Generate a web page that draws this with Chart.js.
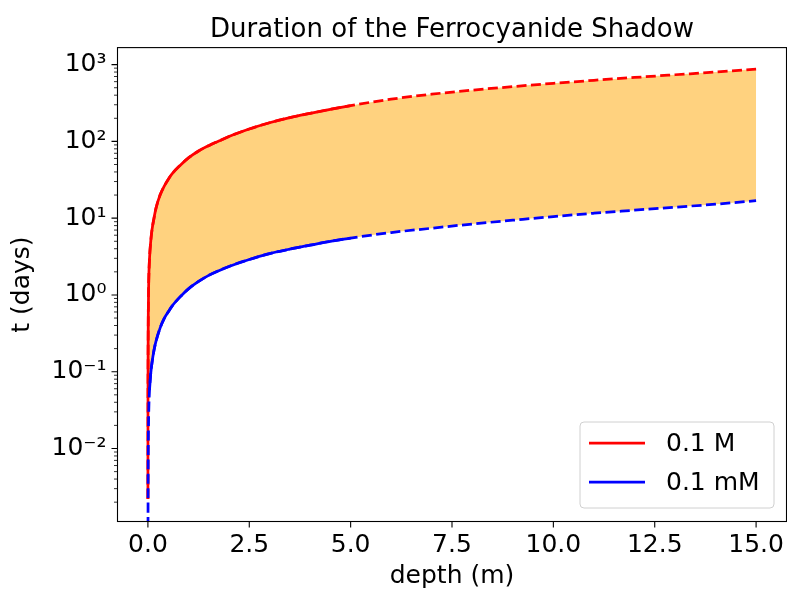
<!DOCTYPE html>
<html>
<head>
<meta charset="utf-8">
<script src="https://cdn.jsdelivr.net/npm/chart.js@4.4.1/dist/chart.umd.min.js"></script>
<style>
  html, body { margin: 0; padding: 0; background: #fff; }
  #wrap { width: 787px; height: 592px; }
</style>
</head>
<body>
<div id="wrap"><canvas id="shadowChart" width="787" height="592"></canvas></div>
<script>
// depth (m) where the curves were read
const depth = [0, 0.002, 0.005, 0.01, 0.02, 0.04, 0.07, 0.1, 0.15, 0.2,
               0.3, 0.4, 0.5, 0.6, 0.8, 1.0, 1.25, 1.5, 1.75, 2.0,
               2.5, 3.0, 3.5, 4.0, 4.5, 5.0,
               6, 7, 8, 9, 10, 11, 12, 13, 14, 15];
// t (days) for 0.1 M
const tHigh = [0.0022, 0.04, 0.2, 0.6, 1.5, 3, 5, 7, 10, 13.5,
               20, 26, 32, 38, 49, 61, 75, 88, 101, 116,
               145, 175, 204, 232, 262, 293,
               355, 412, 465, 517, 570, 625, 680, 738, 800, 875];
// t (days) for 0.1 mM
const tLow = [0.0004, 0.0008, 0.004, 0.012, 0.029, 0.058, 0.095, 0.13, 0.19, 0.25,
              0.37, 0.49, 0.6, 0.72, 0.95, 1.2, 1.5, 1.8, 2.07, 2.35,
              2.9, 3.45, 3.95, 4.45, 5.0, 5.5,
              6.5, 7.4, 8.4, 9.4, 10.5, 11.6, 12.7, 13.9, 15.2, 16.9];

const seriesLabels = ['0.1 M', '0.1 mM'];
const solidEnd = 5;          // solid up to 5 m, dashed after
const lowSolidStart = 0.04;  // solid 0.1 mM line starts here

const xTicks = [0, 2.5, 5, 7.5, 10, 12.5, 15];
const xTickLabels = ['0.0', '2.5', '5.0', '7.5', '10.0', '12.5', '15.0'];
const yTicks = [0.01, 0.1, 1, 10, 100, 1000];
const yTickLabels = ['10⁻²', '10⁻¹', '10⁰', '10¹', '10²', '10³'];

const FONT = 'DejaVu Sans';
const RED = '#ff0000';
const BLUE = '#0000ff';

function points(vals, from, to) {
    return depth.map((x, i) => ({ x: x, y: vals[i] }))
        .filter(p => p.x >= from && p.x <= to);
}

// frame, tick marks and legend in matplotlib style
const mplDecor = {
    id: 'mplDecor',
    afterDraw(chart) {
        const { ctx, chartArea: a, scales: { x, y } } = chart;
        ctx.save();
        ctx.strokeStyle = '#000';
        ctx.lineWidth = 1.1;
        ctx.strokeRect(a.left, a.top, a.right - a.left, a.bottom - a.top);

        ctx.beginPath();
        xTicks.forEach(v => {
            const px = x.getPixelForValue(v);
            ctx.moveTo(px, a.bottom);
            ctx.lineTo(px, a.bottom + 6);
        });
        yTicks.forEach(v => {
            const py = y.getPixelForValue(v);
            ctx.moveTo(a.left, py);
            ctx.lineTo(a.left - 6, py);
        });
        ctx.stroke();

        // minor ticks on the log axis
        ctx.lineWidth = 0.8;
        ctx.beginPath();
        for (let e = -4; e <= 3; e++) {
            for (let m = 2; m <= 9; m++) {
                const v = m * Math.pow(10, e);
                if (v < y.min || v > y.max) continue;
                const py = y.getPixelForValue(v);
                ctx.moveTo(a.left, py);
                ctx.lineTo(a.left - 3.5, py);
            }
        }
        ctx.stroke();

        // legend, lower right
        const w = 194, h = 86;
        const lx = a.right - 12.5 - w;
        const ly = a.bottom - 13.5 - h;
        ctx.beginPath();
        ctx.roundRect(lx, ly, w, h, 4);
        ctx.fillStyle = 'rgba(255,255,255,0.8)';
        ctx.fill();
        ctx.strokeStyle = '#d0d0d0';
        ctx.lineWidth = 1;
        ctx.stroke();

        const colors = [RED, BLUE];
        ctx.font = '25px "' + FONT + '"';
        ctx.textBaseline = 'middle';
        ctx.textAlign = 'left';
        seriesLabels.forEach((lab, i) => {
            const ry = ly + 21 + i * 39;
            ctx.beginPath();
            ctx.strokeStyle = colors[i];
            ctx.lineWidth = 2.75;
            ctx.moveTo(lx + 9, ry);
            ctx.lineTo(lx + 65, ry);
            ctx.stroke();
            ctx.fillStyle = '#000';
            ctx.fillText(lab, lx + 86, ry + 1);
        });
        ctx.restore();
    }
};

const lineBase = {
    pointRadius: 0,
    borderWidth: 2.75,
    cubicInterpolationMode: 'monotone',
    fill: false
};

new Chart(document.getElementById('shadowChart'), {
    type: 'line',
    data: {
        datasets: [
            Object.assign({}, lineBase, {
                label: seriesLabels[0],
                data: points(tHigh, 0, solidEnd),
                borderColor: RED,
                order: 3
            }),
            Object.assign({}, lineBase, {
                label: seriesLabels[0] + ' (dashed)',
                data: points(tHigh, 0, 15),
                borderColor: RED,
                borderDash: [10, 4.4],
                backgroundColor: 'rgba(255,165,0,0.5)',
                fill: { target: 2 },
                order: 4
            }),
            Object.assign({}, lineBase, {
                label: seriesLabels[1] + ' (dashed)',
                data: points(tLow, 0, 15),
                borderColor: BLUE,
                borderDash: [10, 4.4],
                order: 1
            }),
            Object.assign({}, lineBase, {
                label: seriesLabels[1],
                data: points(tLow, lowSolidStart, solidEnd),
                borderColor: BLUE,
                order: 2
            })
        ]
    },
    options: {
        responsive: false,
        animation: false,
        devicePixelRatio: 1,
        layout: { padding: { left: 0, right: 0.5, top: 0, bottom: 0 } },
        plugins: {
            legend: { display: false },
            tooltip: { enabled: false },
            filler: { drawTime: 'beforeDatasetsDraw' },
            title: {
                display: true,
                text: 'Duration of the Ferrocyanide Shadow',
                fullSize: false,
                color: '#000',
                font: { family: FONT, size: 26, weight: 'normal' },
                padding: { top: 14.5, bottom: 1.9 }
            }
        },
        scales: {
            x: {
                type: 'linear',
                min: -0.75,
                max: 15.75,
                bounds: 'data',
                grid: { display: false, drawTicks: false },
                border: { display: false },
                afterBuildTicks: s => { s.ticks = xTicks.map(v => ({ value: v })); },
                afterFit: s => {
                    s.height = 70.5;
                    s.paddingLeft = 0;
                    s.paddingRight = 0;
                },
                ticks: {
                    padding: 9,
                    color: '#000',
                    maxRotation: 0,
                    autoSkip: false,
                    font: { family: FONT, size: 25 },
                    callback: v => xTickLabels[xTicks.indexOf(v)]
                },
                title: {
                    display: true,
                    text: 'depth (m)',
                    color: '#000',
                    font: { family: FONT, size: 25 },
                    padding: { top: 0, bottom: 1 }
                }
            },
            y: {
                type: 'logarithmic',
                min: 0.00112,
                max: 1666,
                bounds: 'data',
                grid: { display: false, drawTicks: false },
                border: { display: false },
                afterBuildTicks: s => { s.ticks = yTicks.map(v => ({ value: v })); },
                afterFit: s => {
                    s.width = 117.5;
                    s.paddingTop = 0;
                    s.paddingBottom = 0;
                },
                ticks: {
                    padding: 11,
                    color: '#000',
                    autoSkip: false,
                    font: { family: FONT, size: 25 },
                    callback: v => yTickLabels[yTicks.indexOf(v)]
                },
                title: {
                    display: true,
                    text: 't (days)',
                    color: '#000',
                    font: { family: FONT, size: 25 },
                    padding: { top: 7, bottom: 0 }
                }
            }
        }
    },
    plugins: [mplDecor]
});
</script>
</body>
</html>
